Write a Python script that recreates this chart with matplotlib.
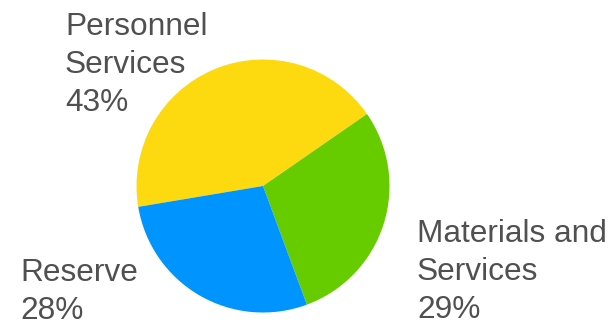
import matplotlib.pyplot as plt

# slice data (clockwise from the left edge)
labels = [['Personnel', 'Services'], ['Materials and', 'Services'], ['Reserve']]
shares = [43, 29, 28]
colors = ['#FDDA10', '#66CC00', '#0094FF']

W, H = 612, 325
fig = plt.figure(figsize=(W / 100, H / 100), dpi=100)

# pie axes: centre (263, 186) px, radius ~126.5 px
ax = fig.add_axes([136.5 / W, 1 - 312.5 / H, 253 / W, 253 / H])
ax.pie(shares, colors=colors, startangle=189.5, counterclock=False,
       wedgeprops=dict(linewidth=0))
ax.set_xlim(-1, 1)
ax.set_ylim(-1, 1)
ax.set_aspect('equal')
ax.axis('off')

# labels: left x and last-line baseline in pixels, one line each
label_pos = [(65, 111), (417, 318), (20, 319)]
step = 38
for lines, pct, (x, y) in zip(labels, shares, label_pos):
    rows = lines + [f'{pct}%']
    for i, row in enumerate(rows):
        yy = y - (len(rows) - 1 - i) * step
        fig.text(x / W, 1 - yy / H, row, ha='left', va='baseline',
                 fontsize=22.8, family='Liberation Sans', color='#505050')

fig.savefig('out.png', dpi=100)
